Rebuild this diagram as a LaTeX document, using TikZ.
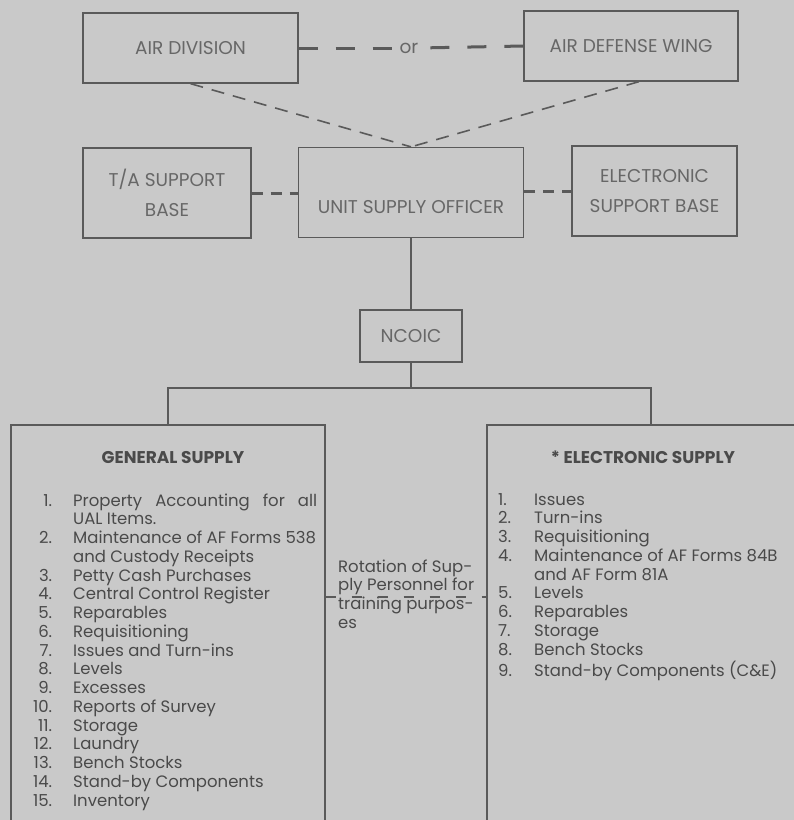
\documentclass[tikz,border=0pt]{standalone}
\usepackage{fontspec}
\setmainfont{Poppins}
\usepackage{array}
\usetikzlibrary{positioning, calc}
\definecolor{paper}{HTML}{C9C9C9}
\definecolor{ink}{HTML}{5A5A5A}
\definecolor{lbl}{HTML}{676767}
\definecolor{txt}{HTML}{4A4A4A}
\newcolumntype{R}[1]{>{\raggedleft\arraybackslash}p{#1}}

\begin{document}
\begin{tikzpicture}[
      x=1pt, y=-1pt,
      every node/.style={inner sep=0pt},
      box/.style={draw=ink, line width=1.3pt, text=lbl, align=center,
        font=\fontsize{18.5}{30}\selectfont},
      boxlbl/.style={text=lbl, font=\fontsize{18.5}{30}\selectfont},
      heading/.style={text=txt, anchor=base, font=\fontsize{17}{18.75}\selectfont\bfseries},
      listtext/.style={text=txt, anchor=base west, font=\fontsize{16.5}{18.75}\selectfont},
      link/.style={ink, line width=1.5pt},
      orline/.style={ink, line width=3pt, dash pattern=on 19pt off 18pt},
      sideline/.style={ink, line width=3pt, dash pattern=on 11pt off 8pt},
      diagline/.style={ink, line width=1.6pt, dash pattern=on 13pt off 9pt},
      rotline/.style={ink, line width=1.4pt, dash pattern=on 10pt off 16pt},
    ]
    \useasboundingbox (0,0) rectangle (794,820);
    \fill[paper] (0,0) rectangle (794,820);
    \clip (0,0) rectangle (794,820);

    \node[box, minimum width=215pt, minimum height=70pt] (airdiv) at (190.5,48)
      {AIR DIVISION};
    \node[box, minimum width=214pt, minimum height=70pt] (adw) at (631,46)
      {AIR DEFENSE WING};
    \node[boxlbl] (or) at (409,48) {or};
    \draw[orline] (airdiv.east) -- (or.west);
    \draw[orline] (adw.west) -- (or.east);

    \node[box, minimum width=168pt, minimum height=90pt] (tasb) at (167,193)
      {T/A SUPPORT\\BASE};
    \node[box, minimum width=225pt, minimum height=90pt] (uso) at (411,192.5) {};
    \node[boxlbl] (usolbl) at (411,207) {UNIT SUPPLY OFFICER};
    \node[box, minimum width=165pt, minimum height=90pt] (esb) at (654.5,191)
      {ELECTRONIC\\SUPPORT BASE};

    \draw[diagline] (airdiv.south) -- (uso.north);
    \draw[diagline] ([xshift=8pt]adw.south) -- (uso.north);
    \draw[sideline] (tasb.east) -- (tasb.east -| uso.west);
    \draw[sideline] (uso.east |- esb.east) -- (esb.east -| esb.west);

    \node[box, minimum width=102pt, minimum height=52pt] (ncoic) at (411,336) {NCOIC};
    \draw[link] (uso.south) -- (ncoic.north);

    \node[box, minimum width=314pt, minimum height=425pt] (gen) at (168,637.5) {};
    \node[box, minimum width=328pt, minimum height=425pt] (elec) at (651,637.5) {};

    \coordinate (bus) at (411,388);
    \draw[link] (ncoic.south) -- (bus);
    \draw[link] (gen.north) |- (bus) -| (elec.north);

    \node[heading] (gentitle) at (173,463) {GENERAL SUPPLY};
    \node[heading] (electitle) at (643,463) {* ELECTRONIC SUPPLY};

    \node[listtext] (genlist) at (11,506)
      {\begin{tabular}[t]{@{}R{41pt}@{\hspace{21pt}}l@{}}
        1. & \makebox[244pt][s]{Property Accounting for all}\\
           & UAL Items.\\
        2. & Maintenance of AF Forms 538\\
           & and Custody Receipts\\
        3. & Petty Cash Purchases\\
        4. & Central Control Register\\
        5. & Reparables\\
        6. & Requisitioning\\
        7. & Issues and Turn-ins\\
        8. & Levels\\
        9. & Excesses\\
        10. & Reports of Survey\\
        11. & Storage\\
        12. & Laundry\\
        13. & Bench Stocks\\
        14. & Stand-by Components\\
        15. & Inventory
       \end{tabular}};

    \node[listtext] (eleclist) at (498,505)
      {\begin{tabular}[t]{@{}p{36pt}@{}l@{}}
        1. & Issues\\
        2. & Turn-ins\\
        3. & Requisitioning\\
        4. & Maintenance of AF Forms 84B\\
           & and AF Form 81A\\
        5. & Levels\\
        6. & Reparables\\
        7. & Storage\\
        8. & Bench Stocks\\
        9. & Stand-by Components (C\&E)
       \end{tabular}};

    \node[listtext] (rotation) at (338,572)
      {\begin{tabular}[t]{@{}l@{}}
        Rotation of Sup-\\
        ply Personnel for\\
        training purpos-\\
        es
       \end{tabular}};
    \coordinate (rotmid) at (406,597);
    \draw[rotline] (gen.east |- rotmid) -- (elec.west |- rotmid);
  \end{tikzpicture}
\end{document}
